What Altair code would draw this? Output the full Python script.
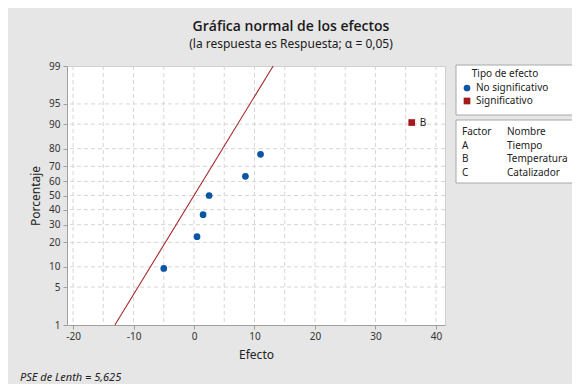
import altair as alt
import pandas as pd
from statistics import NormalDist

# ---------------- data ----------------
effects = [-5.0, 0.5, 1.5, 2.5, 8.5, 11.0, 36.0]
percents = [9.5, 23.0, 36.5, 50.0, 63.5, 77.0, 90.5]
types = ["No significativo"] * 6 + ["Significativo"]
point_labels = [""] * 6 + ["B"]

y_ticks = [1, 5, 10, 20, 30, 40, 50, 60, 70, 80, 90, 95, 99]
y_grid = [5, 10, 20, 30, 40, 50, 60, 70, 80, 90, 95]
x_ticks = [-20, -10, 0, 10, 20, 30, 40]
x_grid = [-20, -15, -10, -5, 0, 5, 10, 15, 20, 25, 30, 35, 40]

pse = 5.625
fit_pct = [1, 99]

factors = ["A", "B", "C"]
factor_names = ["Tiempo", "Temperatura", "Catalizador"]

type_domain = ["No significativo", "Significativo"]
type_colors = ["#0a56a5", "#a51b1b"]
type_shapes = ["circle", "square"]

# ---------------- helpers ----------------
nd = NormalDist()
def z(p):
    return nd.inv_cdf(p / 100.0)

FONT = "Noto Sans"
W, H = 378, 259
zlim = z(99)

pts = pd.DataFrame({"Efecto": effects, "Pct": percents, "Tipo": types, "Etiqueta": point_labels})
pts["z"] = [z(p) for p in percents]

fit = pd.DataFrame({"Pct": fit_pct})
fit["z"] = [z(p) for p in fit_pct]
fit["Efecto"] = pse * fit["z"]

xgrid_df = pd.DataFrame({"Efecto": x_grid})
ygrid_df = pd.DataFrame({"z": [z(p) for p in y_grid]})

xscale = alt.Scale(domain=[-21, 41.5], nice=False, zero=False)
yscale = alt.Scale(domain=[-zlim, zlim], nice=False, zero=False)

xaxis = alt.Axis(values=x_ticks, grid=False, title="Efecto", tickSize=4,
                 labelExpr="'' + datum.value",
                 domainColor="#a0a0a0", tickColor="#a0a0a0", labelColor="#333333",
                 labelFontSize=10, titleFontSize=12, titleFontWeight="normal",
                 titleColor="#222222", labelPadding=2, titlePadding=8, labelFont=FONT, titleFont=FONT)
yaxis = alt.Axis(values=[z(p) for p in y_ticks], grid=False, title="Porcentaje", tickSize=4,
                 labelExpr="format(round(100*cumulativeNormal(datum.value)), 'd')",
                 domainColor="#a0a0a0", tickColor="#a0a0a0", labelColor="#333333",
                 labelFontSize=10, titleFontSize=12, titleFontWeight="normal",
                 titleColor="#222222", labelPadding=3, titlePadding=6, labelFont=FONT, titleFont=FONT)

X = alt.X("Efecto:Q", scale=xscale, axis=xaxis)
Y = alt.Y("z:Q", scale=yscale, axis=yaxis)

grid_x = alt.Chart(xgrid_df).mark_rule(color="#d6d6d6", strokeDash=[4, 3], strokeWidth=1).encode(x=X)
grid_y = alt.Chart(ygrid_df).mark_rule(color="#d6d6d6", strokeDash=[4, 3], strokeWidth=1).encode(y=Y)

fit_line = alt.Chart(fit).mark_line(color="#a52a2a", strokeWidth=1.1).encode(x=X, y=Y)

points = alt.Chart(pts).mark_point(filled=True, size=45, opacity=1).encode(
    x=X, y=Y,
    color=alt.Color("Tipo:N", scale=alt.Scale(domain=type_domain, range=type_colors),
                    legend=alt.Legend(title="Tipo de efecto", orient="none", legendX=395, legendY=3,
                                      titleFontSize=10, labelFontSize=10, titleFontWeight="normal",
                                      titleFont=FONT, labelFont=FONT, symbolSize=45,
                                      titleColor="#222222", labelColor="#222222", rowPadding=3,
                                      titlePadding=4, titleAnchor="middle", symbolStrokeWidth=0)),
    shape=alt.Shape("Tipo:N", scale=alt.Scale(domain=type_domain, range=type_shapes),
                    legend=alt.Legend(title="Tipo de efecto", orient="none", legendX=395, legendY=3)),
)

pt_text = alt.Chart(pts).mark_text(align="left", dx=8, fontSize=10, font=FONT, color="#222222").encode(
    x=X, y=Y, text="Etiqueta:N")

one = pd.DataFrame({"k": [0]})
boxes = []
for (x0, x1, y0, y1) in [(389, 508, -1, 49), (389, 508, 54, 117)]:
    boxes.append(alt.Chart(one).mark_rect(fill="white", stroke="#a8a8a8", strokeWidth=1).encode(
        x=alt.value(x0), x2=alt.value(x1), y=alt.value(y0), y2=alt.value(y1)))

table_layers = []
header_y = 66
row_dy = 13.5
col1, col2 = 395, 440
for txt, xx in [("Factor", col1), ("Nombre", col2)]:
    table_layers.append(alt.Chart(one).mark_text(align="left", baseline="middle", fontSize=10, font=FONT,
                                                 color="#222222").encode(
        x=alt.value(xx), y=alt.value(header_y), text=alt.value(txt)))
for i, (f, n) in enumerate(zip(factors, factor_names)):
    yy = header_y + row_dy * (i + 1)
    table_layers.append(alt.Chart(one).mark_text(align="left", baseline="middle", fontSize=10, font=FONT,
                                                 color="#222222").encode(
        x=alt.value(col1), y=alt.value(yy), text=alt.value(f)))
    table_layers.append(alt.Chart(one).mark_text(align="left", baseline="middle", fontSize=10, font=FONT,
                                                 color="#222222").encode(
        x=alt.value(col2), y=alt.value(yy), text=alt.value(n)))

footnote = alt.Chart(one).mark_text(align="left", baseline="alphabetic", fontSize=11, font=FONT,
                                    fontStyle="italic", color="#222222").encode(
    x=alt.value(-47), y=alt.value(315), text=alt.value("PSE de Lenth = 5,625"))

chart = alt.layer(grid_x, grid_y, fit_line, points, pt_text, *boxes, *table_layers, footnote).properties(
    width=W, height=H,
    padding={"left": 59, "top": 58, "right": 127, "bottom": 59},
    autosize=alt.AutoSizeParams(type="none"),
    background="#e6e6e6",
    title=alt.TitleParams(text="Gráfica normal de los efectos",
                          subtitle="(la respuesta es Respuesta; α = 0,05)",
                          anchor="middle", dx=35, offset=11, fontSize=14, subtitleFontSize=12,
                          font="Open Sans", subtitleFont=FONT, fontWeight=600,
                          subtitleFontWeight="normal", color="#1a1a1a", subtitleColor="#1a1a1a",
                          subtitlePadding=5),
).configure_view(fill="white", stroke="#cfcfcf")

chart.save("out.html", embed_options={"renderer": "svg", "actions": False})
